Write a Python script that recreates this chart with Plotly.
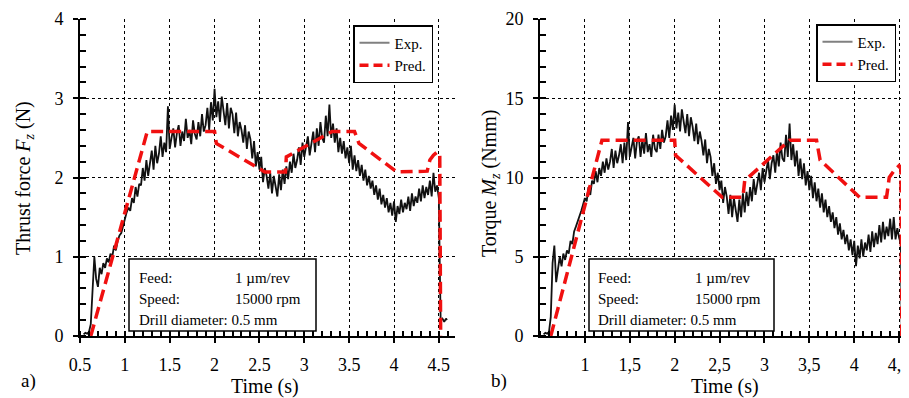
import plotly.graph_objects as go

# ---------------- data ----------------
exp_t0 = 0.54
exp_dt = 0.02

fz_exp = [0.02, 0.04, 0.03, 0.05, 0.15,
          0.55, 1.0, 0.72, 0.62, 0.86, 0.78, 0.92, 0.86, 0.98, 0.93,
          1.04, 1.0, 1.14, 1.08, 1.2, 1.27, 1.3, 1.4, 1.48, 1.56,
          1.62, 1.58, 1.74, 1.68, 1.88, 1.76, 1.92, 1.9, 2.12, 1.96,
          2.22, 2.02, 2.18, 2.34, 2.1, 2.4, 2.18, 2.3, 2.52, 2.26,
          2.44, 2.32, 2.9, 2.36, 2.5, 2.62, 2.38, 2.56, 2.66, 2.4,
          2.58, 2.46, 2.74, 2.5, 2.6, 2.42, 2.72, 2.55, 2.48, 2.7,
          2.52, 2.8, 2.58, 2.66, 2.88, 2.6, 2.95, 2.72, 3.12, 2.76,
          2.96, 2.7, 3.02, 2.84, 2.66, 2.94, 2.62, 2.88, 2.8, 2.56,
          2.82, 2.52, 2.7, 2.6, 2.44, 2.66, 2.36, 2.58, 2.48, 2.24,
          2.46, 2.14, 2.32, 2.1, 2.26, 1.94, 2.12, 2.02, 1.86, 2.06,
          1.8, 2.02, 1.86, 1.76, 2.04, 1.84, 2.1, 1.92, 2.14, 1.98,
          2.2, 2.06, 2.3, 2.12, 2.22, 2.38, 2.16, 2.44, 2.26, 2.4,
          2.52, 2.28, 2.46, 2.58, 2.32, 2.62, 2.4, 2.7, 2.5, 2.44,
          2.78, 2.52, 2.92, 2.5, 2.68, 2.44, 2.62, 2.32, 2.5, 2.3,
          2.46, 2.24, 2.38, 2.18, 2.4, 2.1, 2.28, 2.08, 2.22, 2.02,
          2.16, 1.96, 2.1, 1.9, 2.02, 1.86, 1.96, 1.78, 1.9, 1.72,
          1.86, 1.66, 1.78, 1.62, 1.74, 1.56, 1.68, 1.52, 1.7, 1.44,
          1.64, 1.54, 1.72, 1.56, 1.68, 1.6, 1.76, 1.58, 1.8, 1.64,
          1.76, 1.68, 1.86, 1.7, 1.9, 1.74, 1.88, 1.78, 1.96, 1.76,
          2.06, 1.82, 1.9, 1.74]
fz_tail_t = [4.51, 4.52, 4.54, 4.56, 4.58, 4.59]
fz_tail_y = [0.9, 0.2, 0.22, 0.18, 0.22, 0.2]

mz_exp = [0.1, 0.2, 0.15, 0.25, 1.2,
          4.6, 5.7, 3.4, 4.2, 5.0, 4.4, 5.2, 4.8, 5.4, 5.2,
          6.0, 5.8, 6.6, 6.9, 7.2, 7.6, 7.9, 8.3, 8.7, 8.5,
          9.4, 8.9, 9.8, 9.6, 10.4, 9.7, 10.6, 10.1, 11.0, 10.3,
          11.2, 10.5, 11.0, 11.8, 10.6, 11.7, 10.9, 11.4, 12.1, 10.9,
          12.2, 11.1, 13.5, 11.3, 12.0, 12.5, 11.2, 12.3, 12.6, 11.3,
          12.4, 11.5, 12.8, 11.6, 12.1, 11.3, 12.7, 11.8, 11.6, 12.7,
          11.8, 13.0, 12.2, 12.6, 13.6, 12.5, 13.9, 13.0, 14.6, 13.1,
          14.1, 12.9, 14.3, 13.4, 12.8, 14.0, 12.6, 13.8, 13.2, 12.3,
          13.4, 12.1, 12.9, 12.3, 11.4, 12.4, 10.9, 11.8, 11.3, 10.1,
          10.9, 9.6, 10.3, 9.2, 9.8, 8.4, 9.4, 8.8, 7.7, 8.9,
          7.5, 8.7, 7.8, 7.2, 8.6, 7.5, 9.0, 7.8, 9.1, 8.2,
          9.4, 8.5, 9.9, 8.9, 9.6, 10.3, 9.2, 10.6, 9.7, 10.5,
          11.1, 9.9, 10.9, 11.4, 10.3, 11.7, 10.7, 12.2, 11.2, 11.0,
          12.7, 11.3, 13.4, 11.1, 12.1, 10.7, 11.7, 10.1, 11.2, 9.9,
          10.9, 9.5, 10.4, 9.2, 10.1, 8.7, 9.7, 8.5, 9.3, 8.1,
          9.0, 7.8, 8.6, 7.5, 8.2, 7.2, 7.8, 6.8, 7.5, 6.4,
          7.1, 6.1, 6.7, 5.8, 6.4, 5.4, 6.1, 5.1, 6.0, 4.4,
          5.7, 4.9, 6.1, 5.0, 5.9, 5.4, 6.4, 5.3, 6.6, 5.6,
          6.5, 5.8, 7.0, 5.9, 7.2, 6.1, 6.9, 6.3, 7.4, 6.1,
          7.5, 6.1, 6.8, 6.2]
mz_tail_t = [4.52, 4.53, 4.58]
mz_tail_y = [5.8, 0.1, 0.1]

fz_pred_t = [0.62, 1.25, 2.0, 2.02, 2.56, 2.79, 2.8, 3.31, 3.56, 3.61, 4.03, 4.37, 4.4, 4.44, 4.48, 4.51, 4.52]
fz_pred_y = [0.0, 2.58, 2.58, 2.43, 2.07, 2.07, 2.26, 2.58, 2.58, 2.43, 2.07, 2.08, 2.22, 2.28, 2.32, 2.3, 0.0]

mz_pred_t = [0.62, 1.19, 2.0, 2.01, 2.53, 2.76, 2.78, 3.28, 3.58, 3.62, 4.06, 4.36, 4.39, 4.44, 4.5, 4.52, 4.53]
mz_pred_y = [0.0, 12.35, 12.35, 11.4, 8.75, 8.75, 9.8, 12.35, 12.35, 11.1, 8.75, 8.75, 10.0, 10.4, 10.75, 10.6, 0.0]

left_xticks = [0.5, 1, 1.5, 2, 2.5, 3, 3.5, 4, 4.5]
left_xtext = ["0.5", "1", "1.5", "2", "2.5", "3", "3.5", "4", "4.5"]
right_xticks = [1, 1.5, 2, 2.5, 3, 3.5, 4, 4.5]
right_xtext = ["1", "1,5", "2", "2,5", "3", "3,5", "4", "4,5"]
left_yticks = [0, 1, 2, 3, 4]
right_yticks = [0, 5, 10, 15, 20]

info_labels = ["Feed:", "Speed:", "Drill diameter: 0.5 mm"]
info_values = ["1 \u00b5m/rev", "15000 rpm", ""]

# ---------------- figure ----------------
# the page body has an 8px margin, so the figure starts at (8, 8) of the window
OFF = 8
W, H = 909 - OFF, 398 - OFF
FONT = "Liberation Serif"

def px(x):
    return (x - OFF) / W

def py(y):
    return 1 - (y - OFF) / H

def build_t(n):
    return [round(exp_t0 + i * exp_dt, 2) for i in range(n)]

fz_t = build_t(len(fz_exp)) + fz_tail_t
fz_y = fz_exp + fz_tail_y
mz_t = build_t(len(mz_exp)) + mz_tail_t
mz_y = mz_exp + mz_tail_y

RED = "#f01010"
fig = go.Figure()

fig.add_trace(go.Scatter(x=fz_t, y=fz_y, mode="lines", line=dict(color="#111111", width=1.8),
                         showlegend=False, xaxis="x", yaxis="y"))
fig.add_trace(go.Scatter(x=fz_pred_t, y=fz_pred_y, mode="lines",
                         line=dict(color=RED, width=3.5, dash="12px,6px"),
                         showlegend=False, xaxis="x", yaxis="y"))
fig.add_trace(go.Scatter(x=mz_t, y=mz_y, mode="lines", line=dict(color="#111111", width=1.8),
                         showlegend=False, xaxis="x2", yaxis="y2"))
fig.add_trace(go.Scatter(x=mz_pred_t, y=mz_pred_y, mode="lines",
                         line=dict(color=RED, width=3.5, dash="12px,6px"),
                         showlegend=False, xaxis="x2", yaxis="y2"))

# legend entries
for lg, xa, ya in [("legend", "x", "y"), ("legend2", "x2", "y2")]:
    fig.add_trace(go.Scatter(x=[None], y=[None], mode="lines", name="Exp.",
                             line=dict(color="#808080", width=2), legend=lg, xaxis=xa, yaxis=ya))
    fig.add_trace(go.Scatter(x=[None], y=[None], mode="lines", name="Pred.",
                             line=dict(color=RED, width=3.5, dash="9px,5px"), legend=lg, xaxis=xa, yaxis=ya))

axis_common = dict(
    showline=True, linecolor="black", linewidth=2, mirror=False, automargin=False,
    showgrid=True, gridcolor="black", gridwidth=1, griddash="3px,3px",
    zeroline=False, ticks="outside", ticklen=5, tickwidth=2, tickcolor="black",
    tickfont=dict(family=FONT, size=18, color="black"),
)

fig.update_layout(
    width=W, height=H, margin=dict(l=0, r=0, t=0, b=0, autoexpand=False),
    paper_bgcolor="white", plot_bgcolor="white",
    font=dict(family=FONT, color="black"),
    xaxis=dict(domain=[px(80), px(455)], range=[0.5, 4.68], anchor="y",
               tickvals=left_xticks, ticktext=left_xtext, ticklabelstandoff=6,
               minor=dict(dtick=0.1, tick0=0.5, ticks="inside", ticklen=5, tickwidth=1.5, tickcolor="black", showgrid=False),
               **axis_common),
    yaxis=dict(domain=[py(336), py(19)], range=[0, 4], anchor="x",
               tickvals=left_yticks, ticklabelstandoff=6,
               minor=dict(dtick=0.2, ticks="inside", ticklen=6, tickwidth=1.5, tickcolor="black", showgrid=False),
               **axis_common),
    xaxis2=dict(domain=[px(540), 1.0], range=[0.5, 4.61], anchor="y2",
                tickvals=right_xticks, ticktext=right_xtext, ticklabelstandoff=6,
                ticklabeloverflow="allow",
                minor=dict(dtick=0.1, tick0=0.5, ticks="inside", ticklen=5, tickwidth=1.5, tickcolor="black", showgrid=False),
                **axis_common),
    yaxis2=dict(domain=[py(336), py(19)], range=[0, 20], anchor="x2",
                tickvals=right_yticks, ticklabelstandoff=6,
                minor=dict(dtick=1, ticks="inside", ticklen=6, tickwidth=1.5, tickcolor="black", showgrid=False),
                **axis_common),
    legend=dict(x=px(433), y=py(25), xanchor="right", yanchor="top",
                bgcolor="white", bordercolor="black", borderwidth=1.5,
                font=dict(family=FONT, size=15, color="black"), tracegroupgap=0, itemwidth=30),
    legend2=dict(x=px(896), y=py(24), xanchor="right", yanchor="top",
                 bgcolor="white", bordercolor="black", borderwidth=1.5,
                 font=dict(family=FONT, size=15, color="black"), tracegroupgap=0, itemwidth=30),
)

# info boxes
for (x0, x1, xt, xv) in [(129, 316, 137, 233), (589, 774, 596, 693)]:
    fig.add_shape(type="rect", xref="paper", yref="paper", x0=px(x0), x1=px(x1), y0=py(331), y1=py(259),
                  fillcolor="white", line=dict(color="black", width=1.5), layer="above")
    for i, (lab, val) in enumerate(zip(info_labels, info_values)):
        yy = 278 + i * 21
        fig.add_annotation(x=px(xt), y=py(yy), xref="paper", yref="paper", text=lab, showarrow=False,
                           xanchor="left", yanchor="middle", font=dict(family=FONT, size=15, color="black"))
        if val:
            fig.add_annotation(x=px(xv), y=py(yy), xref="paper", yref="paper", text=val, showarrow=False,
                               xanchor="left", yanchor="middle", font=dict(family=FONT, size=15, color="black"))

# axis titles and panel labels
titles = [
    dict(x=px(265), y=py(386), text="Time (s)", textangle=0),
    dict(x=px(725), y=py(386), text="Time (s)", textangle=0),
    dict(x=px(24), y=py(178), text="Thrust force <i>F<sub>z</sub></i> (N)", textangle=-90),
    dict(x=px(491), y=py(184), text="Torque <i>M<sub>z</sub></i> (Nmm)", textangle=-90),
]
for t in titles:
    fig.add_annotation(xref="paper", yref="paper", showarrow=False, xanchor="center", yanchor="middle",
                       font=dict(family=FONT, size=20, color="black"), **t)
for lab, xx in [("a)", 28), ("b)", 499)]:
    fig.add_annotation(x=px(xx), y=py(381), xref="paper", yref="paper", text=lab, showarrow=False,
                       xanchor="center", yanchor="middle", font=dict(family=FONT, size=19, color="black"))

fig.write_html("out.html")
